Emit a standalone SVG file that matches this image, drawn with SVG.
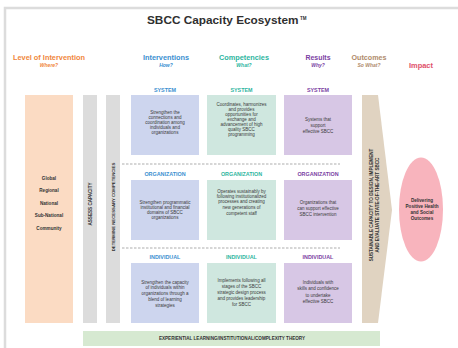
<svg xmlns="http://www.w3.org/2000/svg" width="458" height="348" viewBox="0 0 458 348">
<style>
text{font-family:"Liberation Sans",Arial,sans-serif;text-anchor:middle}
.hd{font-size:8px;font-weight:bold}
.sub{font-size:5px;font-style:italic;font-weight:bold}
.lbl{font-size:5.4px;font-weight:bold}
.bt{font-size:4.5px;fill:#3a3a3a}
.lv{font-size:4.6px;font-weight:bold;fill:#333}
.vt{font-size:4.6px;font-weight:bold;fill:#333}
.iv{fill:#cdd5ee}
.cp{fill:#cfe7df}
.rs{fill:#d7c7e5}
.cb{fill:#3b8fd0}
.ct{fill:#2db5a0}
.cr{fill:#7b3fa3}
</style>
<path d="M5,348 V8 H458" fill="none" stroke="#dcdcdc" stroke-width="2.5"/>
<g id="title"><text x="147" y="24" font-size="11.8" font-weight="bold" fill="#2f2f2f" style="text-anchor:start">SBCC Capacity Ecosystem<tspan font-size="4.5" dx="1.5" dy="-4.5">TM</tspan></text></g>
<g id="headers">
<text class="hd" x="49" y="60" fill="#f0873c" textLength="72" lengthAdjust="spacingAndGlyphs">Level of Intervention</text><text class="sub" x="49" y="67" fill="#f0873c">Where?</text>
<text class="hd" x="166" y="60" fill="#3b8fd0" textLength="46" lengthAdjust="spacingAndGlyphs">Interventions</text><text class="sub" x="166" y="67" fill="#3b8fd0">How?</text>
<text class="hd" x="244" y="60" fill="#2db5a0" textLength="50" lengthAdjust="spacingAndGlyphs">Competencies</text><text class="sub" x="244" y="67" fill="#2db5a0">What?</text>
<text class="hd" x="318" y="60" fill="#7b3fa3" textLength="25" lengthAdjust="spacingAndGlyphs">Results</text><text class="sub" x="318" y="67" fill="#7b3fa3">Why?</text>
<text class="hd" x="369" y="60" fill="#b08b6b" textLength="35" lengthAdjust="spacingAndGlyphs">Outcomes</text><text class="sub" x="369" y="67" fill="#b08b6b">So What?</text>
<text class="hd" x="421" y="68" fill="#e0506a" textLength="24" lengthAdjust="spacingAndGlyphs">Impact</text>
</g>
<g id="levels"><rect x="25" y="95" width="48" height="228" fill="#fbdbc3"/>
<text class="lv" x="49" y="180">Global</text><text class="lv" x="49" y="192">Regional</text><text class="lv" x="49" y="205">National</text><text class="lv" x="49" y="217">Sub-National</text><text class="lv" x="49" y="230">Community</text></g>
<g id="assess"><rect x="83" y="95" width="14" height="228" fill="#dcdcdc"/><text class="vt" transform="translate(91.5,204) rotate(-90)">ASSESS CAPACITY</text></g>
<g id="determine"><rect x="106" y="95" width="14" height="228" fill="#dcdcdc"/><text class="vt" transform="translate(114.5,207) rotate(-90)" style="font-size:4.3px">DETERMINE NECESSARY COMPETENCIES</text></g>
<g id="connectors" stroke="#8a8a8a" stroke-width="0.7" stroke-dasharray="2.5,1.5"><line x1="122" y1="164" x2="340" y2="164"/><line x1="122" y1="248" x2="340" y2="248"/></g>
<g id="int-system"><text class="lbl cb" x="165" y="92">SYSTEM</text><rect class="iv" x="131" y="95" width="68" height="60"/>
<text class="bt" x="165" y="114">Strengthen the</text><text class="bt" x="165" y="119">connections and</text><text class="bt" x="165" y="124">coordination among</text><text class="bt" x="165" y="129">individuals and</text><text class="bt" x="165" y="134">organizations</text></g>
<g id="comp-system"><text class="lbl ct" x="241.5" y="92">SYSTEM</text><rect class="cp" x="207" y="95" width="69" height="60"/>
<text class="bt" x="241.5" y="106">Coordinates, harmonizes</text><text class="bt" x="241.5" y="111">and provides</text><text class="bt" x="241.5" y="116">opportunities for</text><text class="bt" x="241.5" y="121">exchange and</text><text class="bt" x="241.5" y="126">advancement of high</text><text class="bt" x="241.5" y="131">quality SBCC</text><text class="bt" x="241.5" y="136">programming</text></g>
<g id="res-system"><text class="lbl cr" x="318" y="92">SYSTEM</text><rect class="rs" x="284" y="95" width="68" height="60"/>
<text class="bt" x="318" y="121">Systems that</text><text class="bt" x="318" y="127">support</text><text class="bt" x="318" y="133">effective SBCC</text></g>
<g id="int-org"><text class="lbl cb" x="165" y="176">ORGANIZATION</text><rect class="iv" x="131" y="180" width="68" height="60"/>
<text class="bt" x="165" y="204">Strengthen programmatic</text><text class="bt" x="165" y="209">institutional and financial</text><text class="bt" x="165" y="214">domains of SBCC</text><text class="bt" x="165" y="219">organizations</text></g>
<g id="comp-org"><text class="lbl ct" x="241.5" y="176">ORGANIZATION</text><rect class="cp" x="207" y="180" width="69" height="60"/>
<text class="bt" x="241.5" y="193">Operates sustainably by</text><text class="bt" x="241.5" y="198">following institutionalized</text><text class="bt" x="241.5" y="203">processes and creating</text><text class="bt" x="241.5" y="209">new generations of</text><text class="bt" x="241.5" y="215">competent staff</text></g>
<g id="res-org"><text class="lbl cr" x="318" y="176">ORGANIZATION</text><rect class="rs" x="284" y="180" width="68" height="60"/>
<text class="bt" x="318" y="204">Organizations that</text><text class="bt" x="318" y="210">can support effective</text><text class="bt" x="318" y="216">SBCC intervention</text></g>
<g id="int-ind"><text class="lbl cb" x="165" y="259">INDIVIDUAL</text><rect class="iv" x="131" y="263" width="68" height="60"/>
<text class="bt" x="165" y="284">Strengthen the capacity</text><text class="bt" x="165" y="289">of individuals within</text><text class="bt" x="165" y="295">organizations through a</text><text class="bt" x="165" y="301">blend of learning</text><text class="bt" x="165" y="307">strategies</text></g>
<g id="comp-ind"><text class="lbl ct" x="241.5" y="259">INDIVIDUAL</text><rect class="cp" x="207" y="263" width="69" height="60"/>
<text class="bt" x="241.5" y="282">Implements following all</text><text class="bt" x="241.5" y="288">stages of the SBCC</text><text class="bt" x="241.5" y="294">strategic design process</text><text class="bt" x="241.5" y="300">and provides leadership</text><text class="bt" x="241.5" y="306">for SBCC</text></g>
<g id="res-ind"><text class="lbl cr" x="318" y="259">INDIVIDUAL</text><rect class="rs" x="284" y="263" width="68" height="60"/>
<text class="bt" x="318" y="284">Individuals with</text><text class="bt" x="318" y="290">skills and confidence</text><text class="bt" x="318" y="297">to undertake</text><text class="bt" x="318" y="303">effective SBCC</text></g>
<g id="outcomes"><path d="M362,95 H378 L392,210 L378,323 H362 Z" fill="#e0d3c1"/>
<text class="vt" transform="translate(373,205) rotate(-90)">SUSTAINABLE CAPACITY TO DESIGN, IMPLEMENT</text><text class="vt" transform="translate(378.5,205) rotate(-90)">AND EVALUATE STATE-OF-THE-ART SBCC</text></g>
<g id="impact"><ellipse cx="421" cy="209.5" rx="22" ry="52" fill="#f8b4bd"/>
<text class="lv" x="422" y="202">Delivering</text><text class="lv" x="422" y="208">Positive Health</text><text class="lv" x="422" y="214">and Social</text><text class="lv" x="422" y="220">Outcomes</text></g>
<g id="theory"><rect x="83" y="331" width="297" height="15" fill="#d6e9d1"/><text class="vt" x="232" y="340">EXPERIENTIAL LEARNING/INSTITUTIONAL/COMPLEXITY THEORY</text></g>
</svg>
